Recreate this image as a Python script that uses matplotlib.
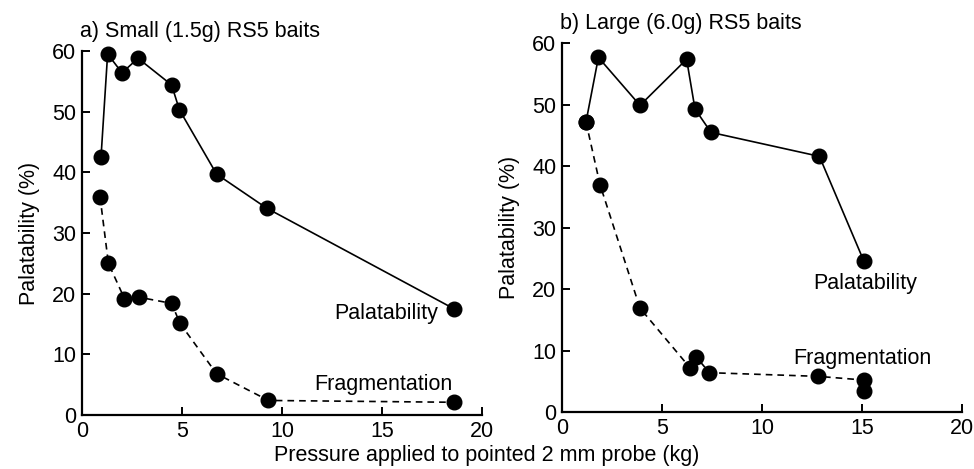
import matplotlib
matplotlib.use("Agg")
import matplotlib.pyplot as plt

plt.rcParams['font.family'] = ['Liberation Sans', 'DejaVu Sans']

# Panel a) Small (1.5g) RS5 baits
a_pal_x = [0.95, 1.28, 2.0, 2.8, 4.48, 4.87, 6.73, 9.23, 18.6]
a_pal_y = [42.5, 59.5, 56.4, 58.8, 54.4, 50.3, 39.7, 34.1, 17.5]
a_frag_x = [0.9, 1.32, 2.12, 2.87, 4.48, 4.9, 6.73, 9.32, 18.6]
a_frag_y = [36.0, 25.0, 19.2, 19.4, 18.4, 15.1, 6.8, 2.4, 2.1]

# Panel b) Large (6.0g) RS5 baits
b_pal_x = [1.2, 1.82, 3.9, 6.23, 6.65, 7.45, 12.87, 15.1]
b_pal_y = [47.2, 57.7, 49.9, 57.4, 49.3, 45.5, 41.6, 24.5]
b_frag_x = [1.2, 1.9, 3.9, 6.4, 6.7, 7.37, 12.82, 15.1, 15.1]
b_frag_y = [47.2, 37.0, 16.9, 7.2, 9.0, 6.4, 5.8, 5.2, 3.4]

x_ticks = [0, 5, 10, 15, 20]
y_ticks = [0, 10, 20, 30, 40, 50, 60]

titles = ["a) Small (1.5g) RS5 baits", "b) Large (6.0g) RS5 baits"]
ylabel = "Palatability (%)"
xlabel = "Pressure applied to pointed 2 mm probe (kg)"

FS = 15.5

fig = plt.figure(figsize=(9.74, 4.69), dpi=100)
axA = fig.add_axes([0.0842, 0.1151, 0.4107, 0.7762])
axB = fig.add_axes([0.5770, 0.1215, 0.4107, 0.7862])

def style(ax):
    ax.set_xlim(0, 20)
    ax.set_ylim(0, 60)
    ax.set_xticks(x_ticks)
    ax.set_yticks(y_ticks)
    for s in ['top', 'right']:
        ax.spines[s].set_visible(False)
    for s in ['left', 'bottom']:
        ax.spines[s].set_linewidth(1.6)
    ax.tick_params(direction='in', length=6, width=1.4, labelsize=FS, pad=4)
    ax.set_ylabel(ylabel, fontsize=FS, labelpad=9)

mk = dict(marker='o', markersize=10.5, color='black', markeredgecolor='black')

for ax, px, py, fx, fy, title in [
    (axA, a_pal_x, a_pal_y, a_frag_x, a_frag_y, titles[0]),
    (axB, b_pal_x, b_pal_y, b_frag_x, b_frag_y, titles[1]),
]:
    style(ax)
    ax.plot(px, py, '-', linewidth=1.2, clip_on=False, **mk)
    ax.plot(fx, fy, '--', linewidth=1.2, dashes=(4, 3), clip_on=False, **mk)
    ax.text(-0.005, 1.025, title, transform=ax.transAxes, fontsize=FS,
            ha='left', va='bottom')

axA.text(15.2, 16.8, "Palatability", fontsize=FS, ha='center', va='center')
axA.text(15.05, 5.1, "Fragmentation", fontsize=FS, ha='center', va='center')
axB.text(15.15, 20.9, "Palatability", fontsize=FS, ha='center', va='center')
axB.text(15.0, 8.75, "Fragmentation", fontsize=FS, ha='center', va='center')

fig.text(0.5, 0.029, xlabel, fontsize=FS, ha='center', va='center')

fig.savefig("out.png", dpi=100)
